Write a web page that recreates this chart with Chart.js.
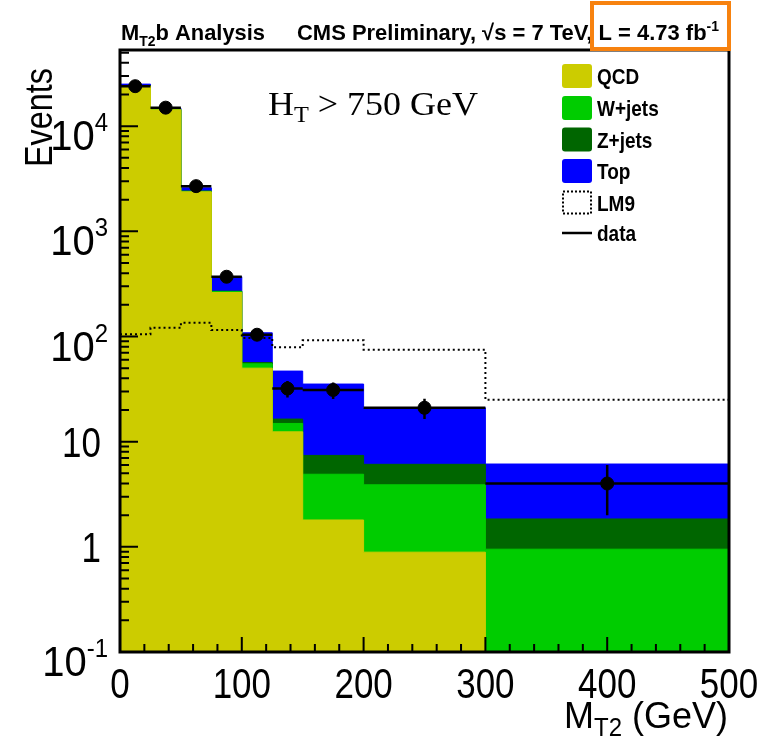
<!DOCTYPE html>
<html><head><meta charset="utf-8">
<script src="https://cdn.jsdelivr.net/npm/chart.js@4.4.1/dist/chart.umd.min.js"></script>
<style>html,body{margin:0;padding:0;background:#fff;}#wrap{position:relative;width:772px;height:740px;}canvas{display:block;}</style>
</head><body><div id="wrap"><canvas id="c" width="772" height="740"></canvas></div>
<script>
// ---- data ----
const binEdges = [0, 25, 50, 75, 100, 125, 150, 200, 300, 500];
const qcd      = [24000, 14300, 2375, 262, 50, 12.4, 1.8, 0.89, 0.1];
const wjets    = [150, 80, 28, 6, 5, 2.5, 3.1, 3.0, 0.85];
const zjets    = [60, 30, 11, 2, 1.5, 1.5, 2.5, 2.2, 0.89];
const topBkg   = [900, 400, 180, 100, 52, 30.5, 27.9, 14.9, 4.29];
const lm9      = [105, 121, 135, 115, 97, 79, 92, 75, 25];
const dataVals = [24000, 15000, 2690, 370, 104, 32, 31, 21, 4];
const dataErr  = [155, 122, 52, 19, 10, 5.7, 5.6, 4.6, 2];
const xTickValues = [0, 100, 200, 300, 400, 500];
const xTickLabels = ['0', '100', '200', '300', '400', '500'];
const yTickValues = [0.1, 1, 10, 100, 1000, 10000];
const yTickLabels = [['10', '-1'], ['1', ''], ['10', ''], ['10', '2'], ['10', '3'], ['10', '4']];
const legendNames = ['QCD', 'W+jets', 'Z+jets', 'Top', 'LM9', 'data'];

const colors = { qcd: '#cccc00', w: '#00cc00', z: '#006600', top: '#0000ff' };

// ---- build library datasets ----
const cumQ = qcd.slice();
const cumW = cumQ.map((v, i) => v + wjets[i]);
const cumZ = cumW.map((v, i) => v + zjets[i]);
const cumT = cumZ.map((v, i) => v + topBkg[i]);
function steps(vals) {
  const pts = vals.map((v, i) => ({ x: binEdges[i], y: v }));
  pts.push({ x: binEdges[binEdges.length - 1], y: vals[vals.length - 1] });
  return pts;
}
const centers = binEdges.slice(0, -1).map((e, i) => (e + binEdges[i + 1]) / 2);
const hBars = [], vBars = [];
dataVals.forEach((v, i) => {
  hBars.push({ x: binEdges[i], y: v }, { x: binEdges[i + 1], y: v }, { x: binEdges[i + 1], y: null });
  vBars.push({ x: centers[i], y: v - dataErr[i] }, { x: centers[i], y: v + dataErr[i] }, { x: centers[i], y: null });
});
const markers = dataVals.map((v, i) => ({ x: centers[i], y: v }));

function stackDs(label, vals, col, order) {
  return { label, data: steps(vals), stepped: 'before', borderColor: col, backgroundColor: col,
    borderWidth: 1, fill: 'start', pointRadius: 0, order };
}

const SANS = '"Liberation Sans", Arial, Helvetica, sans-serif';
const SERIF = '"Liberation Serif", "Times New Roman", serif';

function rich(ctx, segs, x, y, opt) {
  opt = opt || {};
  let w = 0;
  segs.forEach(s => { ctx.font = s.f; s.w = ctx.measureText(s.t).width; w += s.w; });
  const sx = opt.target ? opt.target / w : (opt.sx || 1);
  const sy = opt.sy || 1;
  ctx.save();
  ctx.translate(x, y);
  if (opt.rot) ctx.rotate(opt.rot);
  ctx.scale(sx, sy);
  let cx = opt.align === 'right' ? -w : opt.align === 'center' ? -w / 2 : 0;
  ctx.textBaseline = 'alphabetic';
  ctx.fillStyle = opt.color || '#000';
  segs.forEach(s => { ctx.font = s.f; ctx.fillText(s.t, cx, s.dy || 0); cx += s.w; });
  ctx.restore();
}

const overlay = {
  id: 'overlay',
  afterDraw(chart) {
    const ctx = chart.ctx, a = chart.chartArea;
    const xs = chart.scales.x, ys = chart.scales.y;
    ctx.save();
    // ticks
    ctx.strokeStyle = '#000';
    ctx.lineWidth = 2;
    ctx.beginPath();
    for (let v = 0; v <= 500; v += 20) {
      const px = xs.getPixelForValue(v);
      const len = v % 100 === 0 ? 15 : 8;
      ctx.moveTo(px, a.bottom); ctx.lineTo(px, a.bottom - len);
    }
    for (let d = -1; d <= 4; d++) {
      for (let k = 1; k <= 9; k++) {
        const v = k * Math.pow(10, d);
        if (v < ys.min || v > ys.max) continue;
        const py = ys.getPixelForValue(v);
        const len = k === 1 ? 18 : 9;
        ctx.moveTo(a.left, py); ctx.lineTo(a.left + len, py);
      }
    }
    ctx.stroke();
    // frame
    ctx.lineWidth = 3;
    ctx.strokeRect(a.left, a.top, a.right - a.left, a.bottom - a.top);

    // legend
    const lx = 562, rows = [76, 108, 139.5, 171, 202.5, 233];
    const fills = [colors.qcd, colors.w, colors.z, colors.top];
    rows.forEach((cy, i) => {
      if (i < 4) {
        ctx.fillStyle = fills[i];
        ctx.beginPath();
        ctx.roundRect(lx, cy - 12, 30, 24, 3);
        ctx.fill();
      } else if (i === 4) {
        ctx.setLineDash([2, 2]);
        ctx.lineWidth = 2;
        ctx.strokeRect(lx + 1, cy - 11, 28, 22);
        ctx.setLineDash([]);
      } else {
        ctx.lineWidth = 2.5;
        ctx.beginPath(); ctx.moveTo(lx, cy); ctx.lineTo(lx + 30, cy); ctx.stroke();
      }
      rich(ctx, [{ t: legendNames[i], f: 'bold 20px ' + SANS }], 597, cy + 8, { sx: 0.95, sy: 1.1 });
    });

    // title
    rich(ctx, [{ t: 'M', f: 'bold 22px ' + SANS }, { t: 'T2', f: 'bold 14px ' + SANS, dy: 6 },
      { t: 'b Analysis', f: 'bold 22px ' + SANS }], 121, 40, { target: 144 });
    rich(ctx, [{ t: 'CMS Preliminary, \u221As = 7 TeV, L = 4.73 fb', f: 'bold 22px ' + SANS },
      { t: '-1', f: 'bold 14px ' + SANS, dy: -9 }], 297, 40, { target: 422 });
    // orange box
    ctx.strokeStyle = '#f7820f';
    ctx.lineWidth = 4;
    ctx.strokeRect(592, 3, 137, 46);

    // H_T text
    rich(ctx, [{ t: 'H', f: '34px ' + SERIF }, { t: 'T', f: '23px ' + SERIF, dy: 7 },
      { t: ' > 750 GeV', f: '34px ' + SERIF }], 268, 115, { target: 210 });

    // x tick labels
    xTickValues.forEach((v, i) => {
      rich(ctx, [{ t: xTickLabels[i], f: '38px ' + SANS }], xs.getPixelForValue(v), 698, { align: 'center', sx: 0.92, sy: 1.1 });
    });
    // y tick labels
    yTickValues.forEach((v, i) => {
      const py = ys.getPixelForValue(v);
      const [b, e] = yTickLabels[i];
      if (e) {
        rich(ctx, [{ t: b, f: '40px ' + SANS }, { t: e, f: '24px ' + SANS, dy: -18 }], 108, py + 24, { align: 'right', sx: 1.0, sy: 1.05 });
      } else {
        rich(ctx, [{ t: b, f: '38px ' + SANS }], 101, py + 15, { align: 'right', sx: 0.92, sy: 1.1 });
      }
    });
    // axis titles
    rich(ctx, [{ t: 'Events', f: '36px ' + SANS }], 52, 68, { align: 'right', rot: -Math.PI / 2, sx: 0.9, sy: 1.1 });
    rich(ctx, [{ t: 'M', f: '36px ' + SANS }, { t: 'T2', f: '24px ' + SANS, dy: 8 },
      { t: ' (GeV)', f: '36px ' + SANS }], 728, 728, { align: 'right', sx: 1.0, sy: 1.05 });
    ctx.restore();
  }
};

new Chart(document.getElementById('c'), {
  type: 'line',
  data: {
    datasets: [
      { label: 'data', data: markers, showLine: false, pointRadius: 6.5, pointBackgroundColor: '#000', pointBorderColor: '#000', order: 0 },
      { label: 'dataX', data: hBars, borderColor: '#000', borderWidth: 2.5, pointRadius: 0, spanGaps: false, fill: false, order: 1 },
      { label: 'dataY', data: vBars, borderColor: '#000', borderWidth: 2.5, pointRadius: 0, spanGaps: false, fill: false, order: 1 },
      { label: 'LM9', data: steps(lm9), stepped: 'before', borderColor: '#000', borderWidth: 2, borderDash: [2, 3], pointRadius: 0, fill: false, order: 2 },
      stackDs('QCD', cumQ, colors.qcd, 3),
      stackDs('W+jets', cumW, colors.w, 4),
      stackDs('Z+jets', cumZ, colors.z, 5),
      stackDs('Top', cumT, colors.top, 6)
    ]
  },
  options: {
    responsive: false,
    animation: false,
    layout: { padding: { left: 120, top: 50, right: 43, bottom: 88 } },
    plugins: { legend: { display: false }, tooltip: { enabled: false } },
    scales: {
      x: { type: 'linear', min: 0, max: 500, display: false },
      y: { type: 'logarithmic', min: 0.1, max: 53000, display: false }
    }
  },
  plugins: [overlay]
});
</script></body></html>
